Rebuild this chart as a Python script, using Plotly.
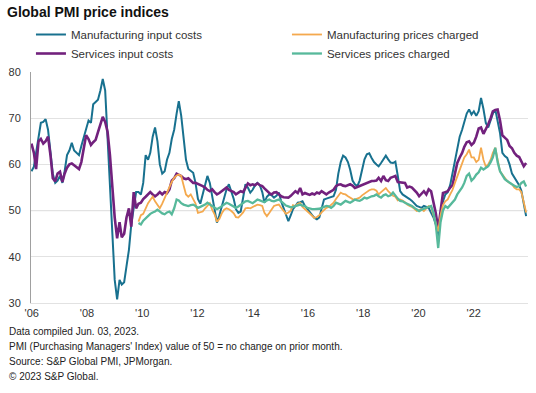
import pandas as pd
import plotly.graph_objects as go

# ---------------- data (monthly) ----------------
months_input = pd.date_range("2006-01-01", "2023-05-01", freq="MS")
months_prices = pd.date_range("2009-10-01", "2023-05-01", freq="MS")

manufacturing_input_costs = [
    58.5, 59.5, 62.5, 66, 69, 69.2, 69.8, 67.5, 62.5, 58, 56, 56.5,      # 2006
    57.5, 56, 58.5, 62, 63, 64.7, 63, 62.5, 62, 64, 66, 67.5,            # 2007
    69.5, 69, 73, 73.5, 74, 76, 78.5, 76, 65, 55, 44, 35,                # 2008
    30.8, 35, 34, 34.5, 38, 41.5, 47, 51, 54, 54, 53.5, 56,              # 2009
    62, 61, 62.5, 66, 68, 65, 60, 58, 58.5, 61, 62.5, 65.5,              # 2010
    67.5, 71, 73.7, 70.5, 65, 61, 59, 58.5, 58.2, 56, 52.5, 51.5,        # 2011
    53.5, 56, 57.5, 56, 53, 49.5, 47.4, 49, 51, 53, 54.6, 55.7,          # 2012
    54, 52.5, 50.3, 49.5, 49.8, 52.5, 55.7, 55, 53.9, 54.5, 55.5, 56,    # 2013
    55.5, 54, 51.7, 53, 53.5, 53.3, 52.8, 53.2, 53.9, 52, 50.5, 49.5,    # 2014
    47.7, 49, 50.3, 51, 51.7, 51.8, 52, 51, 50.3, 49.5, 49, 48.4,        # 2015
    48.1, 48.5, 50.3, 52.4, 52.6, 52.8, 53, 53.1, 54.5, 58, 60.5, 61.9,  # 2016
    61.5, 60.5, 58.9, 56.5, 55.7, 55.3, 56.5, 58.5, 61.1, 62.2, 62.4, 61.4,  # 2017
    60.5, 60, 59.6, 60.3, 61, 61.9, 61.1, 60.4, 60.3, 60.6, 57.5, 54.2,  # 2018
    53.5, 53.2, 52.8, 52.5, 52.1, 51.6, 51, 50.8, 50.6, 51, 50.8, 50.6,  # 2019
    49.5, 48.5, 47, 44.5, 49, 52, 53.5, 54, 55.5, 58, 60.5, 63,          # 2020
    66, 67.5, 69, 71, 71.9, 70.8, 71.5, 70.5, 71.5, 74.4, 72, 69,        # 2021
    68, 69.5, 71, 71.9, 69.5, 66.8, 62.5, 61.8, 61.4, 60, 58, 57.1,      # 2022
    56.4, 55.5, 54.3, 51.7, 48.8,                                        # 2023
]

services_input_costs = [
    64.5, 62.5, 59, 65, 65.5, 64.5, 65, 66, 62, 57, 56.3, 58,            # 2006
    58.4, 56.2, 58, 59.3, 60, 60.2, 59.8, 59.3, 59, 60.5, 63.5, 66.3,    # 2007
    65.5, 64.2, 64.8, 65.3, 67, 68.5, 70.3, 69.2, 67, 62, 55, 48.5,      # 2008
    44, 47.5, 44.2, 45, 48.5, 50.5, 46.5, 54, 50.5, 51.5, 51.7, 52.5,    # 2009
    53, 53.5, 54, 53.5, 53.1, 53.5, 54, 53.5, 54, 53.8, 54.6, 56.5,      # 2010
    57, 58, 57.8, 57.5, 57, 56.8, 57, 56.5, 56, 56, 55.8, 55.5,          # 2011
    55.3, 55, 54.5, 54.2, 54.6, 54, 53.5, 53.8, 54.2, 54.5, 55, 54.5,    # 2012
    54.2, 54, 53.5, 53.8, 54.2, 54, 55, 55.9, 55.5, 55.7, 55.5, 55.9,    # 2013
    55.5, 55.3, 54.8, 54.2, 53.8, 53.5, 53.9, 54, 53.5, 53.1, 52.9, 52.8,  # 2014
    52.8, 53.2, 53.6, 54.2, 53.8, 54.9, 53.5, 53.8, 53.6, 53.4, 53.7, 53.5,  # 2015
    53.9, 53.7, 54.2, 53.8, 53.5, 53.9, 54.2, 54.5, 55.3, 55.6, 55.7, 55.4,  # 2016
    55.3, 55.6, 55.7, 55.4, 54.9, 55.1, 55.3, 55.6, 55.7, 55.9, 56.2, 56.4,  # 2017
    56.4, 56.5, 57.1, 56.4, 57.5, 56.6, 56.4, 57.1, 57.3, 57.5, 56.2, 56.1,  # 2018
    56.1, 56, 55, 55.2, 55, 54.5, 53.9, 53.1, 53.6, 54.2, 53.5, 54.6,    # 2019
    54.2, 52, 49.5, 46, 50.3, 53.8, 54, 54.2, 55, 55.5, 58, 60.3,        # 2020
    61.5, 62.5, 63.8, 64.8, 65, 64.2, 64.7, 66, 67.8, 68, 66.6, 67.5,    # 2021
    68.7, 70, 71.5, 71.8, 71.9, 69.5, 66.3, 65.8, 65.3, 64, 63.5, 62.5,  # 2022
    61.9, 61.6, 60.7, 59.6, 60.3,                                        # 2023
]

manufacturing_prices_charged = [
    47.6, 49, 49.3,                                                      # 2009 Q4
    50.5, 51.6, 52.3, 53, 52, 51.2, 50.5, 51.5, 52.8, 54, 55, 56.2,      # 2010
    57.1, 57.6, 57.8, 57.5, 55.5, 53.5, 53, 53.5, 52.5, 51.5, 49.5, 49.6,  # 2011
    49.8, 50.5, 51, 51.6, 50.2, 49.2, 47.6, 48.2, 49.4, 50.2, 50.5, 50.3,  # 2012
    49.9, 49.4, 48.6, 48.5, 49, 49.6, 50.5, 50.6, 50.5, 50.8, 51, 51.3,  # 2013
    51.2, 51, 49.5, 48.8, 49.5, 50.3, 51, 51.2, 51.3, 50.6, 50, 49.3,    # 2014
    49.6, 50, 51.2, 51, 51.5, 51.7, 50.8, 50.3, 49.8, 49.2, 48.8, 48.4,  # 2015
    48.6, 49, 49.6, 50.2, 50.6, 50.8, 51.3, 51.7, 52.5, 53.3, 53.9, 53.6,  # 2016
    53.5, 53.1, 52.8, 52.5, 52.4, 52.6, 52.8, 53.3, 53.7, 54.2, 54.4, 54.6,  # 2017
    54.6, 54.3, 53.5, 54, 54.5, 54.9, 54.2, 53.6, 53.2, 53, 52.2, 52.4,  # 2018
    52.2, 51.8, 51.3, 51, 50.8, 50.4, 49.9, 50.1, 50.3, 49.9, 50.5, 51,  # 2019
    50.8, 49, 47.5, 45.5, 49, 51.2, 52, 52.4, 53.5, 54.5, 56, 57.5,      # 2020
    58.8, 60.3, 61.5, 62.2, 63.2, 61.5, 61.5, 60.5, 61, 63.6, 61, 59.5,  # 2021
    60, 61, 62.5, 63.6, 61, 58.5, 57.8, 57, 56.4, 56, 55.7, 55,          # 2022
    54.6, 54.6, 54, 51.8, 49.6,                                          # 2023
]

services_prices_charged = [
    47.3, 47, 47.8,                                                      # 2009 Q4
    48.3, 49, 49.3, 49.6, 49.8, 50.2, 49.8, 49.4, 49.2, 49.6, 49.8, 49.2,  # 2010
    50.5, 52.4, 52.2, 51.6, 51.3, 51.2, 51, 51.2, 51.3, 51, 50.6, 50.8,  # 2011
    51, 51.3, 51.7, 51.3, 51, 50.6, 50.3, 50.6, 51, 51.4, 51.7, 51.5,    # 2012
    51.2, 50.9, 50.6, 50.9, 51.3, 51.6, 52, 52.1, 51.8, 51.6, 52, 52.4,  # 2013
    52.2, 52, 51.8, 52.2, 52.4, 52.1, 52, 52.2, 52.4, 52, 51.5, 51.1,    # 2014
    50.9, 50.7, 50.8, 51, 51.2, 51.3, 51.1, 51, 50.6, 50.4, 50.3, 50.3,  # 2015
    50.3, 50.4, 50.6, 50.8, 51, 50.9, 50.6, 51, 51.7, 51.5, 51.3, 51.7,  # 2016
    52.1, 51.9, 51.7, 52, 52.4, 52.2, 52.1, 52.4, 52.8, 52.6, 52.9, 53.1,  # 2017
    53.2, 53.5, 53.1, 52.8, 53.3, 53.5, 53.1, 53.3, 53.9, 53.2, 52.6, 52.1,  # 2018
    52, 51.7, 51.5, 51.3, 51, 50.6, 50.2, 49.9, 50.2, 50.4, 50.6, 50.8,  # 2019
    51, 49.5, 47, 41.9, 47.5, 50, 51, 50.6, 51.2, 51.7, 52.4, 53.5,      # 2020
    54.2, 55, 56, 57.5, 58, 56.5, 57, 57.8, 58.3, 59.3, 58.9, 59.2,      # 2021
    59.6, 60.5, 61.5, 63.6, 60.5, 58.5, 57.5, 56.8, 56.4, 56, 55.7, 55.4,  # 2022
    55.1, 55.3, 56, 56.3, 55.2,                                          # 2023
]

tick_labels = ["'06", "'08", "'10", "'12", "'14", "'16", "'18", "'20", "'22"]
y_ticks = [30, 40, 50, 60, 70, 80]

title_text = "Global PMI price indices"
footer_lines = [
    "Data compiled Jun. 03, 2023.",
    "PMI (Purchasing Managers' Index) value of 50 = no change on prior month.",
    "Source: S&P Global PMI, JPMorgan.",
    "\u00a9 2023 S&P Global.",
]

# ---------------- layout geometry ----------------
W, H = 536, 393
M_L, M_R, M_T, M_B = 31, 8, 72, 90
PLOT_W = W - M_L - M_R
PLOT_H = H - M_T - M_B
FONT = "Arial, 'Liberation Sans', Helvetica, sans-serif"

x_range = ["2005-12-26", "2023-05-25"]
# label positions as placed in the source chart (evenly spaced)
tick_vals = [months_input[0] + pd.Timedelta(days=3 + 707 * k) for k in range(len(tick_labels))]

series = [
    # name, x, y, color, width, legend rank
    ("Manufacturing input costs", months_input, manufacturing_input_costs, "#18718f", 2.0, 1),
    ("Services input costs", months_input, services_input_costs, "#72217d", 2.6, 3),
    ("Manufacturing prices charged", months_prices, manufacturing_prices_charged, "#f4a94e", 1.8, 2),
    ("Services prices charged", months_prices, services_prices_charged, "#57b99b", 2.3, 4),
]

fig = go.Figure()
for name, xs, ys, color, width, rank in series:
    fig.add_trace(go.Scatter(
        x=xs, y=ys, name=name, mode="lines",
        line=dict(color=color, width=width),
        legendrank=rank, hoverinfo="skip",
    ))

fig.add_hline(y=50, line=dict(color="#b5b5b5", width=1), layer="below")

def py_to_paper(py):
    return (H - M_B - py) / PLOT_H

annotations = []
for i, line in enumerate(footer_lines):
    annotations.append(dict(
        text=line, xref="paper", yref="paper",
        x=(6.5 - M_L) / PLOT_W, y=py_to_paper(331.7 + 15 * i),
        xanchor="left", yanchor="middle", showarrow=False,
        font=dict(family=FONT, size=10, color="#222222"),
    ))

fig.update_layout(
    width=W, height=H,
    margin=dict(l=M_L, r=M_R, t=M_T, b=M_B, autoexpand=False),
    paper_bgcolor="white", plot_bgcolor="white",
    font=dict(family=FONT, color="#333333"),
    title=dict(
        text="<b>" + title_text + "</b>",
        x=7 / W, xref="container", xanchor="left",
        y=1 - 12 / H, yref="container", yanchor="middle",
        font=dict(family=FONT, size=14, color="#111111"),
    ),
    showlegend=True,
    legend=dict(
        orientation="h", traceorder="normal",
        x=-0.0001, xanchor="left", xref="paper",
        y=py_to_paper(20), yanchor="top", yref="paper",
        entrywidth=211, entrywidthmode="pixels",
        itemwidth=30,
        font=dict(family=FONT, size=11.5, color="#333333"),
        bgcolor="rgba(0,0,0,0)", borderwidth=0,
    ),
    xaxis=dict(
        type="date", range=x_range,
        tickmode="array", tickvals=tick_vals, ticktext=tick_labels,
        showgrid=False, zeroline=False,
        showline=True, linecolor="#e2e2e2", linewidth=1,
        ticks="", tickfont=dict(family=FONT, size=11, color="#333333"),
        fixedrange=True,
    ),
    yaxis=dict(
        range=[30, 80], tickmode="array", tickvals=y_ticks,
        showgrid=True, gridcolor="#e2e2e2", gridwidth=1,
        zeroline=False,
        showline=True, linecolor="#a0a0a0", linewidth=1,
        ticks="outside", ticklen=7, tickcolor="rgba(0,0,0,0)",
        tickfont=dict(family=FONT, size=11, color="#333333"),
        fixedrange=True,
    ),
    annotations=annotations,
)

fig.write_html(
    "out.html",
    config={"displayModeBar": False, "staticPlot": False},
    post_script="document.body.style.margin='0px';document.body.style.padding='0px';",
)
